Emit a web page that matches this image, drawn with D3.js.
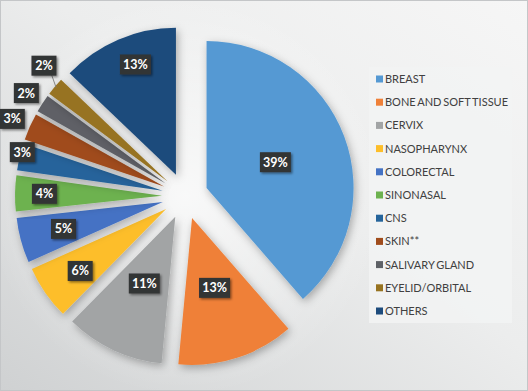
<!DOCTYPE html>
<html><head><meta charset="utf-8">
<script src="https://cdn.jsdelivr.net/npm/d3@7"></script>
<style>html,body{margin:0;padding:0;overflow:hidden;background:#fff}</style>
</head><body>
<script>
const categories = ["BREAST","BONE AND SOFT TISSUE","CERVIX","NASOPHARYNX","COLORECTAL","SINONASAL","CNS","SKIN**","SALIVARY GLAND","EYELID/ORBITAL","OTHERS"];
const values = [39,13,11,6,5,4,3,3,2,2,13];
const colors = ["#5599D3","#EF8038","#A2A4A5","#FDBE2A","#4472C4","#6DB24F","#25649B","#A04C1C","#5E6166","#977320","#1D4B7C"];
// layout: label distance (fraction of radius) and angular nudge (deg) from each exploded slice apex
const labelRadius = [0.5,0.5,0.5,0.72,0.70,0.80,0.99,1.13,1.13,1.15,0.80];
const labelNudge  = [0,0,0,-1,0,0,2,0,0,3,3];

const W=528,H=391;
const svg=d3.select("body").append("svg").attr("width",W).attr("height",H);
const defs=svg.append("defs");
const lg=defs.append("linearGradient").attr("id","bg").attr("x1","1").attr("y1","0").attr("x2","0").attr("y2","1");
lg.append("stop").attr("offset","0").attr("stop-color","#f6f6f6");
lg.append("stop").attr("offset","0.45").attr("stop-color","#eceded");
lg.append("stop").attr("offset","1").attr("stop-color","#cfd1d2");
const rg=defs.append("radialGradient").attr("id","glow").attr("cx","0.5").attr("cy","0.5").attr("r","0.5");
rg.append("stop").attr("offset","0").attr("stop-color","#ffffff").attr("stop-opacity",0.75);
rg.append("stop").attr("offset","1").attr("stop-color","#ffffff").attr("stop-opacity",0);
const sh=defs.append("filter").attr("id","sh").attr("x","-20%").attr("y","-20%").attr("width","140%").attr("height","140%");
sh.append("feDropShadow").attr("dx",2).attr("dy",3).attr("stdDeviation",4).attr("flood-color","#000").attr("flood-opacity",0.3);
const sh2=defs.append("filter").attr("id","sh2").attr("x","-30%").attr("y","-30%").attr("width","160%").attr("height","160%");
sh2.append("feDropShadow").attr("dx",1.5).attr("dy",1.5).attr("stdDeviation",1).attr("flood-color","#000").attr("flood-opacity",0.45);

svg.append("rect").attr("x",0).attr("y",0).attr("width",W).attr("height",H).attr("fill","url(#bg)");
svg.append("ellipse").attr("cx",185).attr("cy",196).attr("rx",200).attr("ry",200).attr("fill","url(#glow)");
svg.append("rect").attr("x",0.5).attr("y",0.5).attr("width",W-1).attr("height",H-1).attr("fill","none").attr("stroke","#c4c6c8");

const cx=185, cy=196, R=147, explode=23;
const pie=d3.pie().sort(null).value(d=>d)(values);
const arc=d3.arc().innerRadius(0).outerRadius(R);
const g=svg.append("g").attr("transform",`translate(${cx},${cy})`);

pie.forEach((p,i)=>{
  const mid=(p.startAngle+p.endAngle)/2;
  p.ox=explode*Math.sin(mid); p.oy=-explode*Math.cos(mid); p.mid=mid;
  p.lmid=mid+labelNudge[i]*Math.PI/180;
});
g.selectAll("path.slice").data(pie).join("path").attr("class","slice")
  .attr("d",arc).attr("fill",(d,i)=>colors[i])
  .attr("transform",d=>`translate(${d.ox},${d.oy})`)
  .attr("filter","url(#sh)");

// leader line for eyelid label
{
  const p=pie[9];
  const ax=p.ox, ay=p.oy;
  const r1=R*0.99, r2=R*labelRadius[9];
  g.append("line")
    .attr("x1",ax+r1*Math.sin(p.mid)).attr("y1",ay-r1*Math.cos(p.mid))
    .attr("x2",ax+(r2-9)*Math.sin(p.lmid)).attr("y2",ay-(r2-9)*Math.cos(p.lmid))
    .attr("stroke","#7a7a7a").attr("stroke-width",0.9);
}

const lab=g.selectAll("g.lab").data(pie).join("g").attr("class","lab")
  .attr("transform",(d,i)=>{const r=R*labelRadius[i];return `translate(${d.ox+r*Math.sin(d.lmid)},${d.oy-r*Math.cos(d.lmid)})`;});
lab.each(function(d,i){
  const s=d3.select(this);
  const txt=values[i]+"%";
  const w=txt.length===3?31:25;
  s.append("rect").attr("x",-w/2).attr("y",-10).attr("width",w).attr("height",20)
    .attr("fill","#333435").attr("filter","url(#sh2)");
  s.append("text").attr("text-anchor","middle").attr("dy","0.36em")
    .attr("fill","#ffffff").attr("font-family","Lato, sans-serif").attr("font-weight","bold").attr("font-size",12.5)
    .text(txt);
});

// legend
const lgX=369, lgY=67;
svg.append("rect").attr("x",lgX).attr("y",lgY).attr("width",143).attr("height",256).attr("fill","#f2f3f3").attr("opacity",0.85);
const leg=svg.append("g").selectAll("g").data(categories).join("g")
  .attr("transform",(d,i)=>`translate(${lgX+7},${lgY+12+i*23.2})`);
leg.append("rect").attr("x",0).attr("y",-3.5).attr("width",7).attr("height",7).attr("fill",(d,i)=>colors[i]);
leg.append("text").attr("x",9).attr("dy","0.36em").attr("fill","#404040")
  .attr("font-family","Lato, sans-serif").attr("font-size",11).attr("word-spacing",-0.9).text(d=>d);
</script>
</body></html>
